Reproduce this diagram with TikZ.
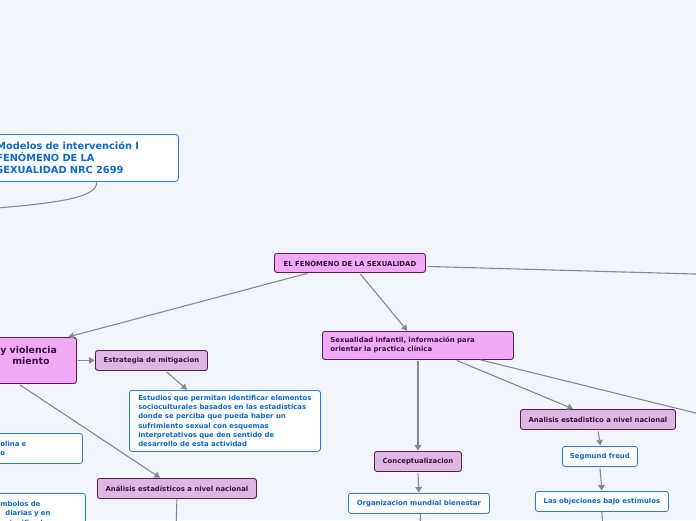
\documentclass[tikz,border=0pt]{standalone}
\usepackage{fontspec}
\setmainfont{DejaVu Sans}
\usetikzlibrary{arrows.meta}

\definecolor{bgblue}{RGB}{243,245,254}
\definecolor{pinkfill}{RGB}{240,170,246}
\definecolor{lilacfill}{RGB}{221,184,226}
\definecolor{plumline}{RGB}{88,28,92}
\definecolor{plumtext}{RGB}{58,14,62}
\definecolor{leafline}{RGB}{40,125,225}
\definecolor{leaftext}{RGB}{12,104,214}
\definecolor{linkgray}{RGB}{136,136,140}

\begin{document}
\begin{tikzpicture}[x=1pt,y=-1pt,
    topic/.style={draw=plumline, fill=pinkfill, text=plumtext, line width=0.9pt,
      rounded corners=2.5pt, inner sep=0pt, anchor=north west,
      font=\fontsize{6.9}{9}\selectfont\bfseries},
    subtopic/.style={topic, fill=lilacfill},
    leaf/.style={draw=leafline, fill=white, text=leaftext, line width=0.8pt,
      rounded corners=2.5pt, inner sep=0pt, anchor=north west,
      font=\fontsize{6.9}{9.2}\selectfont\bfseries},
    link/.style={draw=linkgray, line width=1.1pt,
      -{Triangle[width=6.5pt,length=5.5pt]}, shorten <=1.5pt, shorten >=0.5pt},
    plainlink/.style={draw=linkgray, line width=1.1pt}]

    % Background and frame
    \fill[bgblue] (0,0) rectangle (696,520);
    \useasboundingbox (0,0) rectangle (696,520);

    % Root of the map
    \node[leaf, font=\fontsize{9.8}{12}\selectfont\bfseries, align=left,
      text width=172pt, inner xsep=10pt, minimum height=47pt, rounded corners=3pt]
      (root) at (-14,134) {Modelos de intervención I\\FENÓMENO DE LA\\SEXUALIDAD NRC 2699};

    % Central topic
    \node[topic, minimum width=151pt, minimum height=19pt] (main) at (274,253)
      {EL FENÓMENO DE LA SEXUALIDAD};

    % Left branch
    \node[topic, font=\fontsize{9.4}{11}\selectfont\bfseries, align=left,
      text width=66pt, inner xsep=10pt, minimum height=46pt]
      (vio) at (-10,337) {y violencia\\\hspace*{12pt}miento\\\mbox{}};
    \node[subtopic, minimum width=112pt, minimum height=20pt] (mitig) at (95,350)
      {Estrategia de mitigacion};
    \node[leaf, align=left, minimum width=191pt, minimum height=61pt] (estud) at (129,390)
      {Estudios que permitan identificar elementos\\socioculturales basados en las estadísticas\\donde se perciba que pueda haber un\\sufrimiento sexual con esquemas\\interpretativos que den sentido de\\desarrollo de esta actividad};
    \node[leaf, align=left, text width=72pt, inner xsep=10pt, minimum height=30pt]
      (olina) at (-10,433) {olina e\\o};
    \node[leaf, align=left, text width=75pt, inner xsep=10pt, inner ysep=8pt]
      (simbol) at (-10,493) {mbolos de\\\hspace*{5pt}diarias y en\\\hspace*{5pt}significados};
    \node[subtopic, minimum width=159pt, minimum height=20pt] (analA) at (97,478)
      {Análisis estadísticos a nivel nacional};

    % Right branch
    \node[topic, align=left, text width=175pt, inner xsep=8pt, minimum height=28pt]
      (infant) at (322,331) {Sexualidad infantil, información para\\orientar la practica clínica};
    \node[subtopic, minimum width=87pt, minimum height=20pt] (concep) at (374,451)
      {Conceptualizacion};
    \node[leaf, minimum width=141pt, minimum height=20pt] (oms) at (348,493)
      {Organizacion mundial bienestar};
    \node[subtopic, minimum width=155pt, minimum height=20pt] (analB) at (520,409)
      {Analisis estadistico a nivel nacional};
    \node[leaf, minimum width=75pt, minimum height=20pt] (freud) at (562,446)
      {Segmund freud};
    \node[leaf, minimum width=133pt, minimum height=20pt] (objec) at (535,491)
      {Las objeciones bajo estimulos};

    % Loose ends leaving the frame
    \coordinate (offroot) at (-30,210);
    \coordinate (offmain) at (712,274.5);
    \coordinate (offinf) at (712,417);
    \coordinate (offA) at (176,530);
    \coordinate (offoms) at (420,530);
    \coordinate (offobj) at (603,530);

    % Connectors
    \draw[plainlink] ([xshift=14pt]root.south) .. controls (99,198) and (55,204) .. (offroot);
    \draw[plainlink] ([xshift=2pt,yshift=-3.5pt]main.east) -- (offmain);
    \draw[link] ([xshift=-41pt]main.south) -- ([xshift=-9pt]vio.north east);
    \draw[link] ([xshift=9.5pt]main.south) -- ([xshift=-10.5pt]infant.north);
    \draw[link] (vio) -- (mitig);
    \draw[link] ([xshift=14pt]mitig.south) -- ([xshift=-37.5pt]estud.north);
    \draw[link] ([xshift=-15pt]vio.south) -- ([xshift=-16.5pt]analA.north);
    \draw[plainlink] (analA.south) -- (offA);
    \draw[link] (infant.south) -- (concep.north);
    \draw[link] ([xshift=37.5pt]infant.south) -- ([xshift=-24.5pt]analB.north);
    \draw[plainlink] ([xshift=62.5pt]infant.south) -- (offinf);
    \draw[link] (concep.south) -- (oms.north);
    \draw[plainlink] ([xshift=1.5pt]oms.south) -- (offoms);
    \draw[link] (analB.south) -- ([xshift=0.5pt]freud.north);
    \draw[link] (freud.south) -- (objec.north);
    \draw[plainlink] (objec.south) -- (offobj);

\end{tikzpicture}
\end{document}
